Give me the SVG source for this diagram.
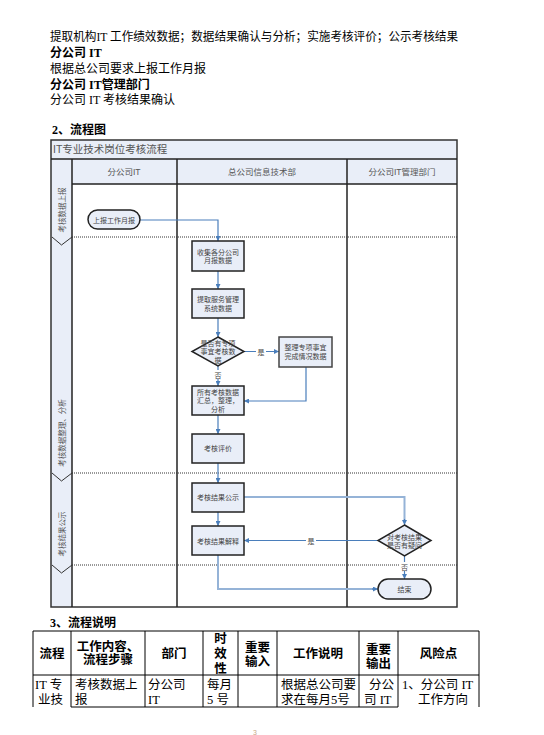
<svg xmlns="http://www.w3.org/2000/svg" width="544" height="735" viewBox="0 0 544 735">
<defs>
<style>
.doc{font-family:"Liberation Serif","Noto Sans CJK SC",serif;font-size:12px;fill:#000}
.b{font-weight:bold}
.hd{font-family:"Liberation Sans","Noto Sans CJK SC",sans-serif;font-size:8.5px;fill:#555;text-anchor:middle}
.ti{font-family:"Liberation Sans","Noto Sans CJK SC",sans-serif;font-size:10.5px;fill:#555}
.nt{font-family:"Liberation Sans","Noto Sans CJK SC",sans-serif;font-size:7px;fill:#444;text-anchor:middle}
.st{font-family:"Liberation Sans","Noto Sans CJK SC",sans-serif;font-size:7.5px;fill:#555;text-anchor:middle}
.box{fill:#e9eef8;stroke:#222;stroke-width:1.5}
.fill{fill:#e9eef8}
.frame{fill:none;stroke:#333;stroke-width:1.5}
.lane{stroke:#222;stroke-width:1.5}
.dot{stroke:#333;stroke-width:1;stroke-dasharray:1 1;fill:none}
.c{fill:none;stroke:#4a7ebb;stroke-width:1.2}
.cl{fill:none;stroke:#95b3d7;stroke-width:2}
.lb{font-family:"Liberation Sans","Noto Sans CJK SC",sans-serif;font-size:7px;fill:#444;text-anchor:middle}
.tb{stroke:#000;stroke-width:1;fill:none}
.th{font-family:"Liberation Sans","Noto Sans CJK SC",sans-serif;font-size:12.5px;font-weight:bold;text-anchor:middle;fill:#000}
.td{font-family:"Liberation Serif","Noto Sans CJK SC",serif;font-size:12.5px;fill:#000}
</style>
<marker id="ar" viewBox="0 0 10 10" refX="10" refY="5" markerWidth="5" markerHeight="5" markerUnits="userSpaceOnUse" orient="auto">
<path d="M0,0 L10,5 L0,10 z" fill="#4a7ebb"/>
</marker>
</defs>
<rect width="544" height="735" fill="#fff"/>

<g id="intro">
<text class="doc" x="50" y="41" textLength="408" lengthAdjust="spacingAndGlyphs">提取机构IT 工作绩效数据；数据结果确认与分析；实施考核评价；公示考核结果</text>
<text class="doc b" x="50" y="57">分公司 IT</text>
<text class="doc" x="50" y="73">根据总公司要求上报工作月报</text>
<text class="doc b" x="50" y="89">分公司 IT管理部门</text>
<text class="doc" x="50" y="104">分公司 IT 考核结果确认</text>
<text class="doc b" x="52" y="134">2、流程图</text>
</g>

<g id="frame">
<rect class="fill" x="51" y="140" width="406" height="44"/>
<rect class="fill" x="51" y="184" width="21" height="423"/>
<rect class="frame" x="51" y="140" width="406" height="467"/>
<line class="lane" x1="51" y1="159" x2="457" y2="159"/>
<line class="lane" x1="72" y1="184" x2="457" y2="184"/>
<line class="lane" x1="72" y1="159" x2="72" y2="607"/>
<line class="lane" x1="177" y1="159" x2="177" y2="607"/>
<line class="lane" x1="347" y1="159" x2="347" y2="607"/>
<text class="ti" x="53" y="153">IT专业技术岗位考核流程</text>
<text class="hd" x="124" y="175">分公司IT</text>
<text class="hd" x="262" y="175">总公司信息技术部</text>
<text class="hd" x="402" y="175">分公司IT管理部门</text>
<line class="dot" x1="72" y1="237" x2="457" y2="237"/>
<line class="dot" x1="72" y1="473" x2="457" y2="473"/>
<line class="dot" x1="72" y1="565" x2="457" y2="565"/>
</g>

<g id="stages">
<polyline points="52,237 61.5,245 72,237" fill="none" stroke="#333" stroke-width="1"/>
<polyline points="52,473 61.5,481 72,473" fill="none" stroke="#333" stroke-width="1"/>
<polyline points="52,565 61.5,573 72,565" fill="none" stroke="#333" stroke-width="1"/>
<text class="st" transform="translate(64.5,210) rotate(-90)">考核数据上报</text>
<text class="st" transform="translate(64.5,433) rotate(-90)">考核数据整理、分析</text>
<text class="st" transform="translate(64.5,534) rotate(-90)">考核结果公示</text>
</g>

<g id="connectors">
<path class="c" d="M140,220 H218 V241" marker-end="url(#ar)"/>
<path class="c" d="M218,271 V289" marker-end="url(#ar)"/>
<path class="c" d="M218,318 V337" marker-end="url(#ar)"/>
<path class="c" d="M244,351.5 H279" marker-end="url(#ar)"/>
<path class="c" d="M218,366 V386" marker-end="url(#ar)"/>
<path class="c" d="M306,367 V401 H244" marker-end="url(#ar)"/>
<path class="c" d="M218,415 V434" marker-end="url(#ar)"/>
<path class="c" d="M218,463 V483" marker-end="url(#ar)"/>
<path class="cl" d="M244,497 H404.5 V521"/>
<path class="c" d="M404.5,519 V525" marker-end="url(#ar)"/>
<path class="c" d="M218,512 V526" marker-end="url(#ar)"/>
<path class="c" d="M378,540.5 H244" marker-end="url(#ar)"/>
<path class="c" d="M404.5,556 V579" marker-end="url(#ar)"/>
<path class="cl" d="M218,555 V589 H374"/>
<path class="c" d="M372,589 H378" marker-end="url(#ar)"/>
<rect x="256" y="347" width="10" height="9" fill="#fff"/>
<text class="lb" x="261" y="354.5">是</text>
<rect x="213" y="370" width="10" height="9" fill="#fff"/>
<text class="lb" x="218" y="377.5">否</text>
<rect x="306" y="536" width="10" height="9" fill="#fff"/>
<text class="lb" x="311" y="543.5">是</text>
<rect x="399.5" y="562" width="10" height="9" fill="#fff"/>
<text class="lb" x="404.5" y="569.5">否</text>
</g>

<g id="n-report">
<rect class="box" x="88" y="210" width="52" height="19" rx="9.5"/>
<text class="nt" x="114" y="222.5">上报工作月报</text>
</g>
<g id="n-collect">
<rect class="box" x="192" y="241" width="52" height="30"/>
<text class="nt" x="218" y="254.5">收集各分公司</text>
<text class="nt" x="218" y="263">月报数据</text>
</g>
<g id="n-extract">
<rect class="box" x="192" y="289" width="52" height="29"/>
<text class="nt" x="218" y="302">提取服务管理</text>
<text class="nt" x="218" y="310.5">系统数据</text>
</g>
<g id="n-special">
<polygon class="box" points="218,337 244,351.5 218,366 192,351.5"/>
<text class="nt" x="218" y="345.5">是否有专项</text>
<text class="nt" x="218" y="354">事宜考核数</text>
<text class="nt" x="218" y="362.5">据</text>
</g>
<g id="n-organize">
<rect class="box" x="279" y="337" width="53" height="30" style="stroke:#444"/>
<text class="nt" x="305.5" y="349.5">整理专项事宜</text>
<text class="nt" x="305.5" y="358.5">完成情况数据</text>
</g>
<g id="n-summary">
<rect class="box" x="192" y="386" width="52" height="29"/>
<text class="nt" x="218" y="394.5">所有考核数据</text>
<text class="nt" x="218" y="403">汇总，整理，</text>
<text class="nt" x="218" y="411.5">分析</text>
</g>
<g id="n-evaluate">
<rect class="box" x="192" y="434" width="52" height="29"/>
<text class="nt" x="218" y="451">考核评价</text>
</g>
<g id="n-publish">
<rect class="box" x="192" y="483" width="52" height="29"/>
<text class="nt" x="218" y="500">考核结果公示</text>
</g>
<g id="n-explain">
<rect class="box" x="192" y="526" width="52" height="29"/>
<text class="nt" x="218" y="543.5">考核结果解释</text>
</g>
<g id="n-doubt">
<polygon class="box" points="404.5,525 431,540.5 404.5,556 378,540.5"/>
<text class="nt" x="404.5" y="539.5">对考核结果</text>
<text class="nt" x="404.5" y="548">是否有疑问</text>
</g>
<g id="n-end">
<rect class="box" x="378" y="579" width="53" height="20" rx="10"/>
<text class="nt" x="404.5" y="591.5">结束</text>
</g>

<g id="table">
<text class="doc b" x="50" y="627">3、流程说明</text>
<line class="tb" x1="33" y1="631" x2="479" y2="631"/>
<line class="tb" x1="33" y1="675" x2="479" y2="675"/>
<line class="tb" x1="71" y1="707" x2="398" y2="707"/>
<line class="tb" x1="33" y1="631" x2="33" y2="707"/>
<line class="tb" x1="71" y1="631" x2="71" y2="707"/>
<line class="tb" x1="145" y1="631" x2="145" y2="707"/>
<line class="tb" x1="203" y1="631" x2="203" y2="707"/>
<line class="tb" x1="238" y1="631" x2="238" y2="707"/>
<line class="tb" x1="277" y1="631" x2="277" y2="707"/>
<line class="tb" x1="359" y1="631" x2="359" y2="707"/>
<line class="tb" x1="398" y1="631" x2="398" y2="707"/>
<line class="tb" x1="479" y1="631" x2="479" y2="707"/>
<text class="th" x="52" y="658">流程</text>
<text class="th" x="108" y="651">工作内容、</text>
<text class="th" x="108" y="664">流程步骤</text>
<text class="th" x="174" y="658">部门</text>
<text class="th" x="220.5" y="643">时</text>
<text class="th" x="220.5" y="658">效</text>
<text class="th" x="220.5" y="673">性</text>
<text class="th" x="257.5" y="652">重要</text>
<text class="th" x="257.5" y="666">输入</text>
<text class="th" x="318" y="658">工作说明</text>
<text class="th" x="378.5" y="654">重要</text>
<text class="th" x="378.5" y="668">输出</text>
<text class="th" x="438.5" y="658">风险点</text>
<text class="td" x="35" y="689">IT 专</text>
<text class="td" x="38" y="704">业技</text>
<text class="td" x="75" y="689">考核数据上</text>
<text class="td" x="75" y="704">报</text>
<text class="td" x="148" y="689">分公司</text>
<text class="td" x="148" y="704">IT</text>
<text class="td" x="207" y="689">每月</text>
<text class="td" x="207" y="704">5 号</text>
<text class="td" x="281" y="689">根据总公司要</text>
<text class="td" x="281" y="704">求在每月5号</text>
<text class="td" x="369" y="689">分公</text>
<text class="td" x="364" y="704">司 IT</text>
<text class="td" x="402" y="689">1、分公司 IT</text>
<text class="td" x="418" y="704">工作方向</text>
</g>
<text x="253" y="735" font-family="Liberation Sans, sans-serif" font-size="7" fill="#c9a888">3</text>
</svg>
